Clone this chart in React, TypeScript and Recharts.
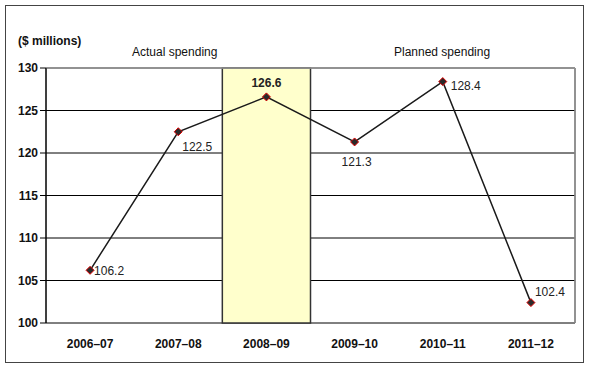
import {
  LineChart,
  Line,
  XAxis,
  YAxis,
  CartesianGrid,
  ReferenceArea,
  ReferenceLine,
  LabelList,
} from "recharts";

const years = ["2006–07", "2007–08", "2008–09", "2009–10", "2010–11", "2011–12"];
const spending = [106.2, 122.5, 126.6, 121.3, 128.4, 102.4];
const yTicks = [100, 105, 110, 115, 120, 125, 130];
const bandTicks = [0, 1, 2, 3, 4, 5, 6];

const data = years.map((year, i) => ({ x: i + 0.5, year, value: spending[i] }));

const FONT = "'Liberation Sans', Arial, sans-serif";

function Diamond(props: any) {
  const { cx, cy } = props;
  if (cx == null || cy == null) return null;
  const r = 4;
  return (
    <polygon
      points={`${cx},${cy - r} ${cx + r},${cy} ${cx},${cy + r} ${cx - r},${cy}`}
      fill="#2a2a2a"
      stroke="#e00000"
      strokeWidth={1}
    />
  );
}

// label placement per point, like the original
const labelPos = [
  { dx: 4, dy: 5, anchor: "start", bold: false },
  { dx: 4, dy: 19, anchor: "start", bold: false },
  { dx: 0, dy: -10, anchor: "middle", bold: true },
  { dx: 2, dy: 24, anchor: "middle", bold: false },
  { dx: 8, dy: 8, anchor: "start", bold: false },
  { dx: 4, dy: -7, anchor: "start", bold: false },
];

function PointLabel(props: any) {
  const { x, y, value, index } = props;
  const p = labelPos[index];
  return (
    <text
      x={x + p.dx}
      y={y + p.dy}
      textAnchor={p.anchor}
      fontFamily={FONT}
      fontSize={12}
      fontWeight={p.bold ? "bold" : "normal"}
      fill="#222"
    >
      {value}
    </text>
  );
}

export default function App() {
  return (
    <div style={{ position: "absolute", left: 0, top: 0, width: 590, height: 367, background: "#fff" }}>
      <div
        style={{
          position: "absolute",
          left: 5,
          top: 5,
          width: 577,
          height: 356,
          border: "1px solid #444",
        }}
      />
      <div
        style={{
          position: "absolute",
          left: 18,
          top: 34,
          fontFamily: FONT,
          fontSize: 12,
          fontWeight: "bold",
          color: "#111",
        }}
      >
        ($ millions)
      </div>
      <div
        style={{
          position: "absolute",
          left: 132,
          top: 45,
          fontFamily: FONT,
          fontSize: 12,
          color: "#111",
        }}
      >
        Actual spending
      </div>
      <div
        style={{
          position: "absolute",
          left: 394,
          top: 45,
          fontFamily: FONT,
          fontSize: 12,
          color: "#111",
        }}
      >
        Planned spending
      </div>
      <LineChart
        width={590}
        height={367}
        data={data}
        margin={{ top: 68, right: 15, left: 0, bottom: 0 }}
        style={{ position: "absolute", left: 0, top: 0 }}
      >
        <ReferenceArea
          xAxisId="band"
          x1={2}
          x2={3}
          y1={100}
          y2={130}
          fill="#ffffcc"
          fillOpacity={1}
          stroke="#333"
          strokeWidth={1.5}
        />
        <CartesianGrid xAxisId="band" stroke="#000" strokeWidth={1} />
        <ReferenceLine xAxisId="band" y={130} stroke="#999" strokeWidth={1.5} />
        <ReferenceLine xAxisId="band" x={6} stroke="#999" strokeWidth={1.5} />
        <XAxis
          xAxisId="band"
          dataKey="x"
          type="number"
          domain={[0, 6]}
          ticks={bandTicks}
          tick={false}
          tickLine={{ stroke: "#000" }}
          tickSize={5}
          axisLine={{ stroke: "#000" }}
          height={0}
        />
        <XAxis
          dataKey="x"
          type="number"
          domain={[0, 6]}
          ticks={data.map((d) => d.x)}
          tickFormatter={(v: number) => years[Math.floor(v)]}
          tickLine={false}
          axisLine={false}
          tick={{ fill: "#111", fontSize: 12, fontWeight: "bold", fontFamily: FONT }}
          tickMargin={10}
          height={44}
        />
        <YAxis
          domain={[100, 130]}
          ticks={yTicks}
          width={46}
          tickSize={6}
          tickLine={{ stroke: "#000" }}
          axisLine={{ stroke: "#000" }}
          tick={{ fill: "#111", fontSize: 12, fontWeight: "bold", fontFamily: FONT }}
          interval={0}
        />
        <Line
          dataKey="value"
          stroke="#1a1a1a"
          strokeWidth={1.5}
          dot={<Diamond />}
          isAnimationActive={false}
        >
          <LabelList dataKey="value" content={<PointLabel />} />
        </Line>
      </LineChart>
    </div>
  );
}
